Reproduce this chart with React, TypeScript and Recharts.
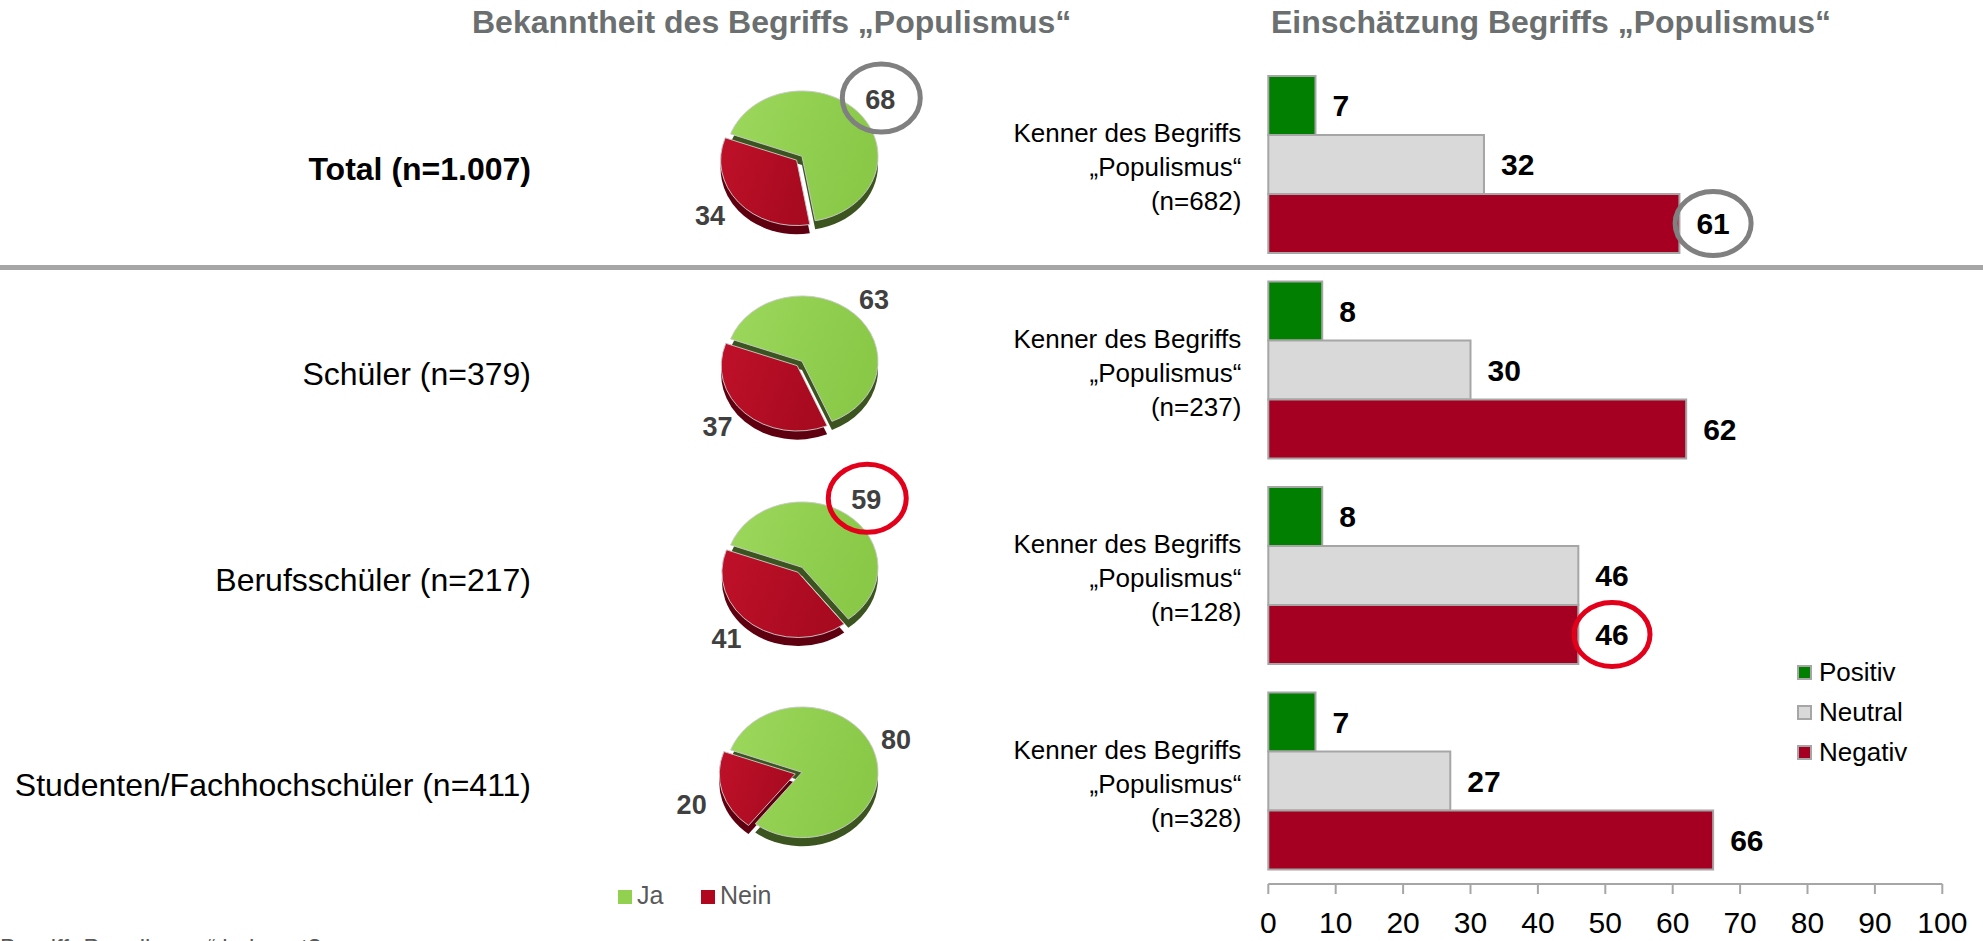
import { BarChart, Bar, XAxis, YAxis, LabelList, PieChart, Pie, Cell } from "recharts";

const FONT = '"Liberation Sans", Arial, Helvetica, sans-serif';

// rows (left labels) and the "Kenner" sample sizes (bar chart categories)
const ROW_LABELS = ["Total (n=1.007)", "Schüler (n=379)", "Berufsschüler (n=217)", "Studenten/Fachhochschüler (n=411)"];
const KENNER_N = ["(n=682)", "(n=237)", "(n=128)", "(n=328)"];

// Bekanntheit (pies)
const JA = [68, 63, 59, 80];
const NEIN = [34, 37, 41, 20];

// Einschätzung (bars)
const POSITIV = [7, 8, 8, 7];
const NEUTRAL = [32, 30, 46, 27];
const NEGATIV = [61, 62, 46, 66];

const X_TICKS = [0, 10, 20, 30, 40, 50, 60, 70, 80, 90, 100];

// circled values in the original slide
const PIE_MARKS = [
  { row: 0, slice: 0, color: "#808080" },
  { row: 2, slice: 0, color: "#e2001a" },
];
const BAR_MARKS = [
  { row: 0, key: "negativ", color: "#808080" },
  { row: 2, key: "negativ", color: "#e2001a" },
];

const PIE_SERIES = [
  { name: "Ja", top: ["#9bd85c", "#8ac848"], side: "#3c5520", legend: "#92d050" },
  { name: "Nein", top: ["#bf1129", "#a80a20"], side: "#5e000f", legend: "#b0071f" },
];

const BAR_SERIES = [
  { key: "positiv", name: "Positiv", color: "#007f00" },
  { key: "neutral", name: "Neutral", color: "#d9d9d9" },
  { key: "negativ", name: "Negativ", color: "#a50021" },
];

const barData = KENNER_N.map((n, i) => ({
  kenner: n,
  positiv: POSITIV[i],
  neutral: NEUTRAL[i],
  negativ: NEGATIV[i],
}));

const W = 1983;
const H = 941;
const BAND_TOP = 62;
const BAND = 205.5;
const rowCenter = (i: number) => BAND_TOP + BAND * (i + 0.5);

// pie geometry
const PIE_CX = 797;
const PIE_R = 76;
const TILT = 0.86;
const DEPTH = 10;
const EXPLODE = 7;
const START = 160;
const BOX_W = 300;
const BOX_H = 260;
const RAD = Math.PI / 180;

const pieData = (i: number) => [
  { name: "Ja", value: JA[i] },
  { name: "Nein", value: NEIN[i] },
];

const renderPieLabel = (row: number) => (props: any) => {
  const { cx, cy, midAngle, outerRadius, index, value } = props;
  const exploded = index === 1;
  const cos = Math.cos(midAngle * RAD);
  const sin = Math.sin(midAngle * RAD);
  const rx = outerRadius + (exploded ? 4 + EXPLODE * 2 : 4);
  const ry = outerRadius * TILT + (exploded ? EXPLODE + DEPTH * TILT - 6 : 0);
  const hw = exploded ? 20 : 17;
  const hh = exploded ? 11 : 15;
  // label box sits outside the rim, like the office "outside end" placement
  const x = cx + rx * cos + Math.sign(cos) * hw;
  const y = cy - ry * sin - Math.sign(sin) * hh;
  const mark = PIE_MARKS.find((m) => m.row === row && m.slice === index);
  return (
    <g key={`pl-${row}-${index}`}>
      <text x={x} y={y} textAnchor="middle" dominantBaseline="central" fontSize={27} fontWeight="bold" fill="#404040" fontFamily={FONT}>
        {value}
      </text>
      {mark && <ellipse cx={x + 1} cy={y - 2} rx={39} ry={34} fill="none" stroke={mark.color} strokeWidth={5} />}
    </g>
  );
};

const PieBlock = ({ row }: { row: number }) => {
  const data = pieData(row);
  const total = JA[row] + NEIN[row];
  const neinMid = START - (JA[row] / total) * 360 - (NEIN[row] / total) * 180;
  const ex = EXPLODE * Math.cos(neinMid * RAD);
  const ey = -EXPLODE * Math.sin(neinMid * RAD);
  const left = PIE_CX - BOX_W / 2;
  const top = rowCenter(row) - 13 - BOX_H / 2;
  const c = BOX_W / 2;
  const m = BOX_H / 2;
  const common = {
    data,
    dataKey: "value",
    outerRadius: PIE_R,
    startAngle: START,
    endAngle: START - 360,
    isAnimationActive: false,
  };
  return (
    <>
      <div style={{ position: "absolute", left, top, width: BOX_W, height: BOX_H, transform: `scaleY(${TILT})`, transformOrigin: `${c}px ${m}px` }}>
        <PieChart width={BOX_W} height={BOX_H}>
          <defs>
            {PIE_SERIES.map((s, k) => (
              <linearGradient key={s.name} id={`pg-${row}-${k}`} x1="0" y1="0" x2="1" y2="0.3">
                <stop offset="0%" stopColor={s.top[0]} />
                <stop offset="100%" stopColor={s.top[1]} />
              </linearGradient>
            ))}
          </defs>
          <Pie {...common} cx={c} cy={m + DEPTH}>
            <Cell fill={PIE_SERIES[0].side} stroke="none" />
            <Cell fill="none" stroke="none" />
          </Pie>
          <Pie {...common} cx={c + ex} cy={m + DEPTH + ey}>
            <Cell fill="none" stroke="none" />
            <Cell fill={PIE_SERIES[1].side} stroke="none" />
          </Pie>
          <Pie {...common} cx={c} cy={m}>
            <Cell fill={`url(#pg-${row}-0)`} stroke="#c9c9c9" strokeWidth={1} />
            <Cell fill="none" stroke="none" />
          </Pie>
          <Pie {...common} cx={c + ex} cy={m + ey}>
            <Cell fill="none" stroke="none" />
            <Cell fill={`url(#pg-${row}-1)`} stroke="#c9c9c9" strokeWidth={1} />
          </Pie>
        </PieChart>
      </div>
      <div style={{ position: "absolute", left, top, width: BOX_W, height: BOX_H }}>
        <PieChart width={BOX_W} height={BOX_H}>
          <Pie {...common} cx={c} cy={m} fill="none" stroke="none" labelLine={false} label={renderPieLabel(row)} />
        </PieChart>
      </div>
    </>
  );
};

const KennerTick = (props: any) => {
  const { x, y, payload } = props;
  const lines = ["Kenner des Begriffs", "„Populismus“", payload.value];
  return (
    <g>
      {lines.map((t, k) => (
        <text key={k} x={x} y={y + 2.5 + (k - 1) * 34 + 9.1} textAnchor="end" fontSize={26} fill="#000" fontFamily={FONT}>
          {t}
        </text>
      ))}
    </g>
  );
};

const makeBarLabel = (key: string) => (props: any) => {
  const { x, y, width, height, value, index } = props;
  const tx = Number(x) + Number(width) + 17;
  const ty = Number(y) + Number(height) / 2;
  const tw = String(value).length * 0.556 * 30;
  const mark = BAR_MARKS.find((m) => m.row === index && m.key === key);
  return (
    <g>
      <text x={tx} y={ty} dominantBaseline="central" fontSize={30} fontWeight="bold" fill="#000" fontFamily={FONT}>
        {value}
      </text>
      {mark && <ellipse cx={tx + tw / 2} cy={ty} rx={38} ry={32} fill="none" stroke={mark.color} strokeWidth={5} />}
    </g>
  );
};

export default function App() {
  return (
    <div style={{ position: "absolute", left: 0, top: 0, width: W, height: H, overflow: "hidden", background: "#fff", fontFamily: FONT }}>
      {/* titles */}
      <div style={{ position: "absolute", left: 472, top: 6, fontSize: 32, lineHeight: 1, fontWeight: "bold", color: "#6b6f70", whiteSpace: "nowrap" }}>
        Bekanntheit des Begriffs „Populismus“
      </div>
      <div style={{ position: "absolute", left: 1271, top: 6, fontSize: 32, lineHeight: 1, fontWeight: "bold", color: "#6b6f70", whiteSpace: "nowrap" }}>
        Einschätzung Begriffs „Populismus“
      </div>

      {/* separator between total and groups */}
      <div style={{ position: "absolute", left: 0, top: 265, width: W, height: 5, background: "#a6a6a6" }} />

      {/* row labels */}
      {ROW_LABELS.map((t, i) => (
        <div
          key={t}
          style={{
            position: "absolute",
            right: W - 531,
            top: rowCenter(i) + 4 - 18,
            fontSize: 32,
            lineHeight: "36px",
            fontWeight: i === 0 ? "bold" : "normal",
            color: "#000",
            whiteSpace: "nowrap",
          }}
        >
          {t}
        </div>
      ))}

      {/* pies */}
      {JA.map((_, i) => (
        <PieBlock key={i} row={i} />
      ))}

      {/* pie legend */}
      {PIE_SERIES.map((s, k) => (
        <div key={s.name} style={{ position: "absolute", left: k === 0 ? 618 : 701, top: 883, display: "flex", alignItems: "flex-start", whiteSpace: "nowrap" }}>
          <div style={{ width: 14, height: 14, background: s.legend, marginTop: 7, marginRight: 5 }} />
          <span style={{ fontSize: 25, lineHeight: 1, color: "#595959" }}>{s.name}</span>
        </div>
      ))}

      {/* bars */}
      <div style={{ position: "absolute", left: 1000, top: 0, width: 983, height: H }}>
        <BarChart
          width={983}
          height={H}
          data={barData}
          layout="vertical"
          barCategoryGap={14}
          barGap={0}
          margin={{ top: BAND_TOP, right: 40.7, bottom: 0, left: 0 }}
        >
          <XAxis
            type="number"
            domain={[0, 100]}
            ticks={X_TICKS}
            height={57}
            axisLine={{ stroke: "#a6a6a6", strokeWidth: 2 }}
            tickLine={{ stroke: "#a6a6a6", strokeWidth: 2 }}
            tickSize={10}
            tickMargin={18}
            tick={{ fontSize: 30, fill: "#000", fontFamily: FONT }}
            interval={0}
          />
          <YAxis
            type="category"
            dataKey="kenner"
            width={268.3}
            axisLine={false}
            tickLine={false}
            tickSize={0}
            tickMargin={27}
            tick={(p: any) => <KennerTick {...p} />}
            interval={0}
          />
          {BAR_SERIES.map((s) => (
            <Bar key={s.key} dataKey={s.key} name={s.name} fill={s.color} stroke="#a6a6a6" strokeWidth={2} isAnimationActive={false}>
              <LabelList dataKey={s.key} content={makeBarLabel(s.key)} />
            </Bar>
          ))}
        </BarChart>
      </div>

      {/* bar legend */}
      {BAR_SERIES.map((s, k) => (
        <div key={s.key} style={{ position: "absolute", left: 1797, top: 659 + k * 40, display: "flex", alignItems: "flex-start", whiteSpace: "nowrap" }}>
          <div style={{ width: 15, height: 15, boxSizing: "border-box", border: "2px solid #a6a6a6", background: s.color, marginTop: 6, marginRight: 7 }} />
          <span style={{ fontSize: 26, lineHeight: 1, color: "#000" }}>{s.name}</span>
        </div>
      ))}

      {/* cut-off footnote at the slide bottom */}
      <div style={{ position: "absolute", left: 0, top: 936, fontSize: 24, lineHeight: 1, color: "#595959", whiteSpace: "nowrap" }}>
        Begriff „Populismus“ bekannt?
      </div>
    </div>
  );
}
